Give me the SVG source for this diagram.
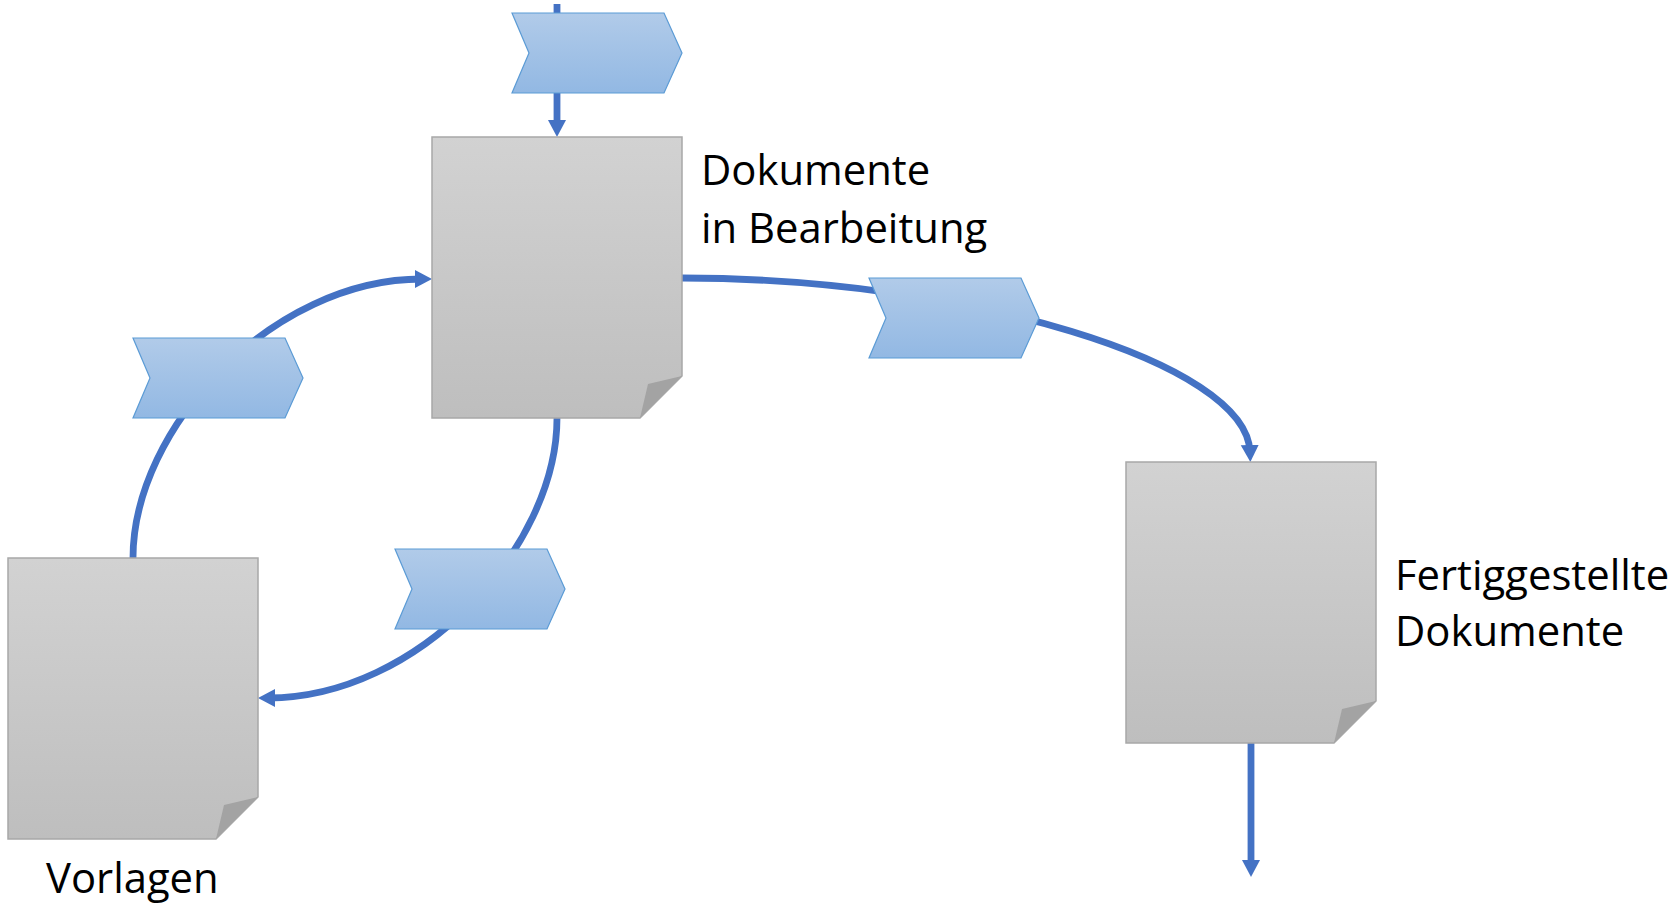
<svg xmlns="http://www.w3.org/2000/svg" width="1678" height="909" viewBox="0 0 1678 909">
<style>
.doc{fill:url(#docFill);stroke:#a8a8a8;stroke-width:1.5}
.fold{fill:#a3a3a3}
.chev{fill:url(#chevFill);stroke:#5b9bd5;stroke-width:1.2}
.conn{fill:none;stroke:#4472c4;stroke-width:6.8}
.lbl{font-family:"Open Sans","Noto Sans",sans-serif;font-size:41.8px;fill:#000}
</style>
<defs>
<linearGradient id="docFill" x1="0" y1="0" x2="0" y2="1"><stop offset="0" stop-color="#d2d2d2"/><stop offset="1" stop-color="#bebebe"/></linearGradient>
<linearGradient id="chevFill" x1="0" y1="0" x2="0" y2="1"><stop offset="0" stop-color="#b1cbe9"/><stop offset="1" stop-color="#92b8e3"/></linearGradient>
<marker id="arrow" markerUnits="userSpaceOnUse" markerWidth="20" markerHeight="20" refX="7" refY="10" orient="auto"><path d="M0 1L17 10L0 19Z" fill="#4472c4"/></marker>
<path id="docShape" d="M0 0H250V239L208 281H0Z"/>
<path id="foldShape" d="M250 239L216 247L208 281Z"/>
<path id="chevShape" d="M0 0H152L170 40L152 80H0L17 40Z"/>
</defs>
<g id="connectors">
<path class="conn" d="M557 4V127" marker-end="url(#arrow)"/>
<path class="conn" d="M133 558C133 428 272 279 422 279" marker-end="url(#arrow)"/>
<path class="conn" d="M557 418C557 548 418 698 268 698" marker-end="url(#arrow)"/>
<path class="conn" d="M682 278C965 278 1247 362 1250 452" marker-end="url(#arrow)"/>
<path class="conn" d="M1251 743V867" marker-end="url(#arrow)"/>
</g>
<g id="doc-bearbeitung"><use href="#docShape" x="432" y="137" class="doc"/><use href="#foldShape" x="432" y="137" class="fold"/>
<text class="lbl"><tspan x="701" y="184.500">Dokumente</tspan><tspan x="701" y="242.500">in Bearbeitung</tspan></text></g>
<g id="doc-fertig"><use href="#docShape" x="1126" y="462" class="doc"/><use href="#foldShape" x="1126" y="462" class="fold"/>
<text class="lbl"><tspan x="1395" y="590">Fertiggestellte</tspan><tspan x="1395" y="646">Dokumente</tspan></text></g>
<g id="doc-vorlagen"><use href="#docShape" x="8" y="558" class="doc"/><use href="#foldShape" x="8" y="558" class="fold"/>
<text class="lbl" x="46" y="893">Vorlagen</text></g>
<g id="chevron-top"><use href="#chevShape" x="512" y="13" class="chev"/></g>
<g id="chevron-right"><use href="#chevShape" x="869" y="278" class="chev"/></g>
<g id="chevron-left"><use href="#chevShape" x="133" y="338" class="chev"/></g>
<g id="chevron-bottom"><use href="#chevShape" x="395" y="549" class="chev"/></g>
</svg>
